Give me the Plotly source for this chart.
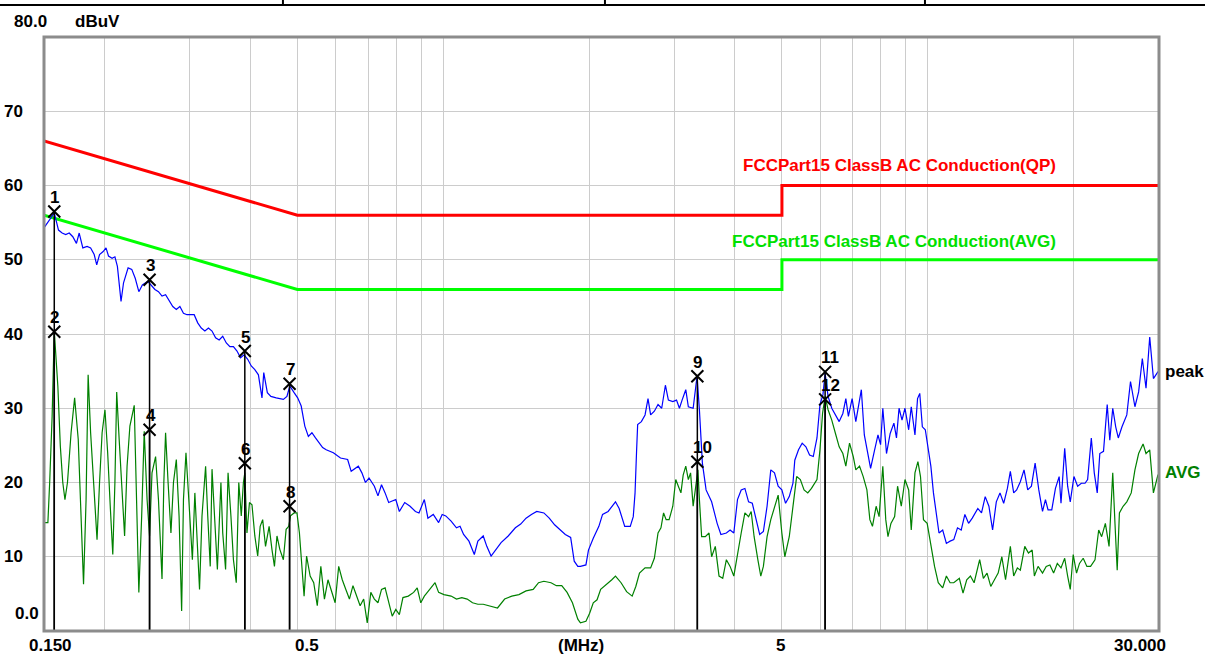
import numpy as np
import plotly.graph_objects as go

# ---------------- data ----------------
peak_f = [0.150, 0.1575, 0.1607, 0.1635, 0.1663, 0.1691, 0.1720, 0.1750, 0.1773, 0.1804, 0.1841, 0.1872,
          0.1904, 0.1927, 0.1953, 0.1987, 0.2014, 0.2038, 0.2073, 0.2101, 0.2126, 0.2163, 0.2189, 0.2237,
          0.2276, 0.2314, 0.2354, 0.2394, 0.2456, 0.2498, 0.2541, 0.2584, 0.2628, 0.2673, 0.2719, 0.2766,
          0.2813, 0.2861, 0.2910, 0.2960, 0.3010, 0.3062, 0.3114, 0.3167, 0.3222, 0.3277, 0.3333, 0.3390,
          0.3448, 0.3507, 0.3567, 0.3628, 0.3690, 0.3753, 0.3817, 0.3882, 0.3949, 0.4016, 0.4085, 0.4155,
          0.4226, 0.4262, 0.4335, 0.4409, 0.4522, 0.4678, 0.4758, 0.4824, 0.4923, 0.5007, 0.5092, 0.5180,
          0.5268, 0.5358, 0.5450, 0.5543, 0.5638, 0.5734, 0.5932, 0.6137, 0.6349, 0.6457, 0.6567, 0.6680,
          0.6794, 0.6910, 0.7028, 0.7209, 0.7333, 0.7458, 0.7586, 0.7716, 0.7847, 0.7982, 0.8118, 0.8327,
          0.8542, 0.8762, 0.8912, 0.9141, 0.9298, 0.9537, 0.9783, 0.9950, 1.0121, 1.0381, 1.0649, 1.0831,
          1.1016, 1.1300, 1.1591, 1.1789, 1.2093, 1.2300, 1.2553, 1.2833, 1.3163, 1.3617, 1.4087, 1.4450,
          1.4822, 1.5204, 1.5595, 1.6133, 1.6549, 1.6975, 1.7413, 1.7861, 1.8321, 1.8635, 1.8954,
          1.919, 1.970, 1.994, 2.040, 2.095, 2.132, 2.189, 2.267, 2.307, 2.369, 2.432, 2.467, 2.488, 2.506,
          2.519, 2.564, 2.609, 2.646, 2.679, 2.727, 2.775, 2.824, 2.874, 2.915, 2.977, 3.030, 3.072, 3.111,
          3.166, 3.205, 3.279, 3.340, 3.378, 3.426, 3.487, 3.580, 3.675, 3.741, 3.840, 3.908, 3.978, 4.048,
          4.120, 4.193, 4.267, 4.343, 4.420, 4.498, 4.578, 4.659, 4.742, 4.826, 4.911, 4.998, 5.087, 5.177,
          5.269, 5.315, 5.410, 5.505, 5.603, 5.702, 5.803, 5.906, 5.990, 6.075, 6.139, 6.226, 6.336, 6.448,
          6.563, 6.679, 6.774, 6.857, 6.979, 7.103, 7.191, 7.292, 7.396, 7.527, 7.620, 7.755, 7.892, 7.990,
          8.075, 8.218, 8.363, 8.512, 8.617, 8.723, 8.847, 8.972, 9.131, 9.244, 9.408, 9.524, 9.625, 9.744,
          9.882, 10.005, 10.146, 10.272, 10.399, 10.546, 10.733, 10.923, 11.117, 11.314, 11.515, 11.719,
          11.926, 12.138, 12.353, 12.683, 12.907, 13.136, 13.369, 13.606, 13.847, 14.092, 14.342, 14.596,
          14.803, 15.039, 15.252, 15.522, 15.797, 16.077, 16.362, 16.652, 16.947, 17.248, 17.491, 17.708,
          18.022, 18.341, 18.666, 18.831, 19.165, 19.436, 19.677, 20.025, 20.380, 20.741, 21.109, 21.370,
          21.749, 22.057, 22.369, 22.645, 23.047, 23.455, 23.745, 24.081, 24.422, 24.724, 25.162, 25.744,
          26.200, 26.758, 27.232, 27.715, 28.206, 28.706, 29.215, 29.84, 30.0]
peak_v = [54.3, 56.3, 54.0, 53.6, 53.4, 53.6, 53.1, 52.2, 53.6, 51.6, 51.8, 51.6,
          50.7, 49.3, 50.7, 51.1, 51.6, 50.5, 50.2, 50.4, 49.1, 44.4, 46.9, 48.9,
          48.7, 47.5, 45.7, 46.6, 47.1, 46.6, 46.0, 45.7, 45.1, 45.3, 44.4, 43.7,
          43.3, 43.7, 42.8, 42.6, 42.6, 42.6, 41.5, 40.8, 40.4, 40.8, 40.4, 39.5,
          39.2, 39.7, 38.8, 38.3, 38.3, 37.7, 36.8, 37.2, 36.6, 35.7, 35.2, 34.5,
          31.4, 34.8, 32.1, 31.6, 31.4, 31.2, 31.6, 33.0, 32.1, 31.4, 30.3, 27.6,
          26.2, 26.7, 26.0, 25.3, 24.7, 24.4, 24.0, 23.3, 23.1, 21.5, 21.8, 22.2,
          21.3, 20.0, 20.6, 19.5, 18.2, 19.7, 18.6, 17.3, 17.5, 17.7, 16.1, 17.3,
          16.8, 16.1, 15.9, 17.7, 15.2, 15.7, 14.6, 15.7, 15.5, 14.8, 13.9, 14.1,
          13.0, 12.1, 10.3, 12.1, 12.8, 11.4, 10.1, 11.0, 11.9, 12.8, 13.9, 14.4,
          15.2, 15.7, 16.1, 15.9, 15.2, 14.3, 13.6, 13.0, 12.6, 9.4, 8.7,
          8.7, 8.9, 10.9, 12.5, 14.1, 15.7, 16.1, 17.4, 16.5, 14.1, 14.1, 15.4, 18.6, 24.2,
          27.8, 28.2, 29.1, 31.3, 29.1, 29.6, 30.5, 30.0, 33.1, 31.1, 30.9, 31.1, 30.0, 31.1,
          32.5, 30.2, 30.0, 34.3, 29.8, 22.6, 19.0, 17.4, 14.5, 13.0, 13.2, 13.6, 13.2, 17.7,
          19.0, 19.2, 17.4, 17.2, 15.0, 13.0, 13.4, 16.8, 21.7, 21.3, 19.5, 19.0, 17.2, 18.1,
          19.9, 23.0, 24.4, 25.3, 24.8, 23.7, 23.5, 26.0, 30.5, 31.8, 34.7, 31.6, 30.0, 29.1,
          28.2, 29.3, 31.3, 28.9, 31.3, 28.2, 30.2, 32.5, 26.4, 23.9, 21.9, 24.2, 26.4, 25.1,
          30.0, 23.9, 26.6, 28.0, 26.0, 30.0, 28.4, 30.0, 27.1, 30.2, 26.4, 31.3, 32.0, 27.5,
          27.1, 24.8, 22.2, 18.6, 15.9, 13.2, 13.6, 11.8, 12.1, 12.3, 13.9, 13.6,
          15.7, 14.5, 15.2, 16.5, 15.9, 18.1, 16.8, 13.6, 17.4, 18.6, 17.2, 19.2,
          21.5, 18.6, 19.0, 20.1, 21.7, 19.0, 19.5, 22.6, 19.0, 16.1, 17.7, 16.3,
          16.3, 19.2, 20.8, 17.2, 24.6, 19.5, 17.4, 20.8, 19.5, 19.9, 19.9, 20.4,
          26.0, 21.3, 18.6, 23.9, 24.2, 30.5, 25.7, 30.0, 27.5, 26.0, 27.5, 29.1,
          33.6, 30.2, 32.2, 36.7, 32.7, 39.6, 34.0, 34.9, 34.9]

avg_f = [0.1502, 0.1528, 0.1541, 0.1559, 0.1575, 0.1586, 0.1602, 0.1621, 0.1640, 0.1657, 0.1677, 0.1706,
         0.1735, 0.1765, 0.1786, 0.1810, 0.1832, 0.1850, 0.1872, 0.1904, 0.1930, 0.1953, 0.1977, 0.2004,
         0.2030, 0.2055, 0.2080, 0.2101, 0.2119, 0.2144, 0.2174, 0.2200, 0.2226, 0.2256, 0.2303, 0.2326,
         0.2354, 0.2386, 0.2415, 0.2448, 0.2477, 0.2506, 0.2549, 0.2584, 0.2628, 0.2651, 0.2673, 0.2705,
         0.2742, 0.2775, 0.2813, 0.2850, 0.2885, 0.2910, 0.2945, 0.2985, 0.3036, 0.3072, 0.3098, 0.3141,
         0.3178, 0.3233, 0.3266, 0.3305, 0.3333, 0.3377, 0.3419, 0.3477, 0.3507, 0.3555, 0.3597, 0.3646,
         0.3690, 0.3740, 0.3785, 0.3830, 0.3869, 0.3895, 0.3935, 0.3982, 0.4030, 0.4085, 0.4141, 0.4190,
         0.4240, 0.4298, 0.4372, 0.4431, 0.4484, 0.4538, 0.4600, 0.4678, 0.4740, 0.4799, 0.4840, 0.4923,
         0.4990, 0.5049, 0.5110, 0.5162, 0.5224, 0.5313, 0.5404, 0.5496, 0.5590, 0.5686, 0.5783, 0.5882,
         0.5983, 0.6085, 0.6189, 0.6295, 0.6403, 0.6512, 0.6623, 0.6737, 0.6852, 0.6969, 0.7088, 0.7209,
         0.7333, 0.7458, 0.7586, 0.7716, 0.7847, 0.7982, 0.8118, 0.8257, 0.8470, 0.8688, 0.8837, 0.8988,
         0.9141, 0.9377, 0.9619, 0.9783, 1.0035, 1.0381, 1.0649, 1.0923, 1.1205, 1.1493, 1.1789, 1.2093,
         1.2510, 1.2942, 1.3388, 1.3850, 1.4328, 1.4822, 1.5333, 1.5728, 1.6133, 1.6690, 1.7120, 1.7561,
         1.8013, 1.8477, 1.8954,
         1.919, 1.970, 2.005, 2.040, 2.077, 2.113, 2.170, 2.228, 2.267, 2.328, 2.390, 2.454, 2.497, 2.541,
         2.609, 2.679, 2.727, 2.775, 2.814, 2.849, 2.884, 2.925, 2.977, 3.019, 3.056, 3.094, 3.127, 3.166,
         3.205, 3.239, 3.279, 3.319, 3.354, 3.378, 3.414, 3.474, 3.536, 3.580, 3.643, 3.708, 3.774, 3.840,
         3.908, 3.978, 4.048, 4.120, 4.193, 4.267, 4.320, 4.381, 4.459, 4.522, 4.578, 4.659, 4.742, 4.826,
         4.911, 4.998, 5.069, 5.177, 5.269, 5.362, 5.457, 5.554, 5.653, 5.753, 5.906, 5.990, 6.064, 6.139,
         6.226, 6.336, 6.448, 6.563, 6.679, 6.774, 6.894, 7.016, 7.103, 7.229, 7.357, 7.487, 7.593, 7.687,
         7.823, 7.934, 8.075, 8.189, 8.276, 8.393, 8.542, 8.662, 8.816, 8.972, 9.131, 9.244, 9.408, 9.541,
         9.659, 9.796, 9.970, 10.146, 10.326, 10.509, 10.733, 10.923, 11.117, 11.314, 11.616, 11.822,
         12.032, 12.245, 12.462, 12.795, 13.021, 13.252, 13.487, 13.726, 13.969, 14.217, 14.469, 14.803,
         15.039, 15.305, 15.522, 15.853, 16.134, 16.420, 16.593, 16.888, 17.248, 17.553, 17.864, 18.181,
         18.503, 18.831, 19.165, 19.436, 19.677, 19.955, 20.273, 20.560, 20.925, 21.295, 21.673, 22.134,
         22.526, 22.845, 23.250, 23.662, 24.081, 24.336, 24.594, 24.855, 25.295, 25.744, 26.292, 26.758,
         27.232, 27.813, 28.206, 28.706, 29.215, 29.84, 30.0]
avg_v = [14.6, 14.6, 20.0, 28.9, 40.4, 37.4, 33.0, 24.9, 20.0, 17.7, 20.0, 26.7,
         31.4, 25.8, 17.7, 6.3, 17.7, 34.5, 26.7, 17.7, 12.3, 20.0, 26.7, 29.8,
         24.0, 16.8, 10.3, 20.0, 32.2, 25.8, 17.7, 12.8, 22.2, 27.6, 30.4, 20.0,
         5.2, 15.5, 26.9, 17.7, 12.8, 21.3, 23.5, 17.7, 7.0, 20.0, 26.7, 20.0,
         13.2, 20.0, 23.1, 15.5, 2.7, 17.7, 24.0, 17.7, 9.6, 18.6, 13.2, 5.6,
         15.5, 22.2, 15.5, 8.7, 21.8, 15.5, 8.3, 20.0, 13.2, 8.3, 21.3, 15.5,
         9.6, 6.5, 20.0, 15.5, 20.0, 21.3, 13.2, 17.3, 17.0, 12.8, 10.1, 14.1,
         15.0, 11.4, 14.1, 11.0, 8.7, 12.8, 11.0, 9.6, 13.7, 14.1, 15.5, 15.9,
         15.9, 13.2, 9.2, 4.7, 10.1, 7.4, 6.5, 3.4, 8.7, 4.3, 6.9, 5.2,
         3.8, 8.7, 6.9, 5.6, 4.3, 6.1, 4.7, 3.4, 4.3, 1.1, 5.2, 4.3,
         3.8, 5.6, 5.8, 3.8, 2.0, 2.9, 2.2, 4.5, 4.7, 5.2, 5.8, 3.8,
         4.7, 5.6, 6.5, 5.2, 4.9, 4.7, 4.3, 4.5, 4.3, 3.8, 3.6, 3.6,
         3.4, 3.1, 4.3, 4.7, 4.9, 5.4, 5.6, 6.5, 6.7, 6.5, 6.1, 6.1,
         5.2, 3.8, 1.6,
         1.1, 1.3, 2.4, 3.8, 4.2, 5.6, 6.2, 6.9, 7.4, 6.5, 5.3, 4.7, 6.0, 7.8,
         8.5, 8.5, 9.8, 13.2, 13.9, 15.9, 15.0, 15.0, 16.8, 20.4, 19.5, 18.6, 21.0, 22.2,
         20.4, 21.3, 16.8, 19.9, 21.7, 17.7, 12.7, 12.7, 13.2, 10.0, 11.4, 7.4, 7.1, 9.6,
         8.7, 7.4, 10.5, 13.2, 15.9, 15.4, 16.1, 12.7, 9.6, 7.4, 8.7, 12.7, 15.0, 16.8,
         18.3, 13.2, 10.0, 12.7, 16.8, 20.8, 20.4, 19.0, 18.6, 19.2, 20.4, 24.4, 29.3, 31.6,
         29.8, 28.4, 26.6, 24.8, 23.9, 22.2, 25.3, 23.5, 21.7, 22.2, 20.8, 19.0, 15.0, 14.1,
         16.8, 15.4, 22.2, 15.0, 12.7, 14.5, 15.4, 19.5, 16.8, 20.4, 19.0, 13.6, 21.3, 22.8,
         20.8, 15.0, 14.5, 11.4, 8.7, 6.5, 5.8, 7.4, 6.5, 6.5, 7.1, 5.1,
         6.9, 7.4, 6.5, 9.6, 7.1, 7.8, 6.0, 6.9, 7.8, 10.0, 6.9, 11.4,
         7.4, 8.5, 8.2, 11.4, 10.5, 10.9, 7.4, 8.7, 7.8, 8.7, 8.9, 7.8,
         9.1, 8.5, 9.8, 7.4, 5.6, 10.3, 7.8, 9.1, 9.8, 8.7, 8.7, 9.6,
         13.6, 12.7, 14.5, 11.4, 21.3, 14.5, 8.2, 15.9, 16.8, 17.4, 18.6, 21.7,
         23.9, 25.2, 23.9, 24.4, 18.6, 21.0, 21.0]

qp_limit_f = [0.15, 0.5, 5.0, 5.0, 30.0]
qp_limit_v = [66.0, 56.0, 56.0, 60.0, 60.0]
avg_limit_f = [0.15, 0.5, 5.0, 5.0, 30.0]
avg_limit_v = [56.0, 46.0, 46.0, 50.0, 50.0]

marker_no = ["1", "2", "3", "4", "5", "6", "7", "8", "9", "10", "11", "12"]
marker_f = [0.1575, 0.1575, 0.2477, 0.2477, 0.3895, 0.3895, 0.4818, 0.4818, 3.345, 3.345, 6.139, 6.139]
marker_v = [56.5, 40.3, 47.3, 27.1, 37.7, 22.6, 33.3, 16.8, 34.3, 22.8, 34.9, 31.2]

grid_f = [0.2, 0.3, 0.4, 0.5, 0.6, 0.7, 0.8, 0.9, 1, 2, 3, 4, 5, 6, 7, 8, 9, 10, 20]
y_tick_vals = [10, 20, 30, 40, 50, 60, 70]
x_tick_labels = ["0.150", "0.5", "(MHz)", "5", "30.000"]

# ---------------- figure ----------------
FONT = "Liberation Sans, Arial, sans-serif"
fig = go.Figure()

fig.add_trace(go.Scatter(x=qp_limit_f, y=qp_limit_v, mode="lines",
                         line=dict(color="#ff0000", width=3), hoverinfo="skip"))
fig.add_trace(go.Scatter(x=avg_limit_f, y=avg_limit_v, mode="lines",
                         line=dict(color="#00ff00", width=3), hoverinfo="skip"))
fig.add_trace(go.Scatter(x=avg_f, y=avg_v, mode="lines",
                         line=dict(color="#008000", width=1.2)))
fig.add_trace(go.Scatter(x=peak_f, y=peak_v, mode="lines",
                         line=dict(color="#0000ff", width=1.2)))

# vertical marker lines
lx, ly = [], []
for f, v in zip(marker_f, marker_v):
    lx += [f, f, None]
    ly += [v, 0, None]
fig.add_trace(go.Scatter(x=lx, y=ly, mode="lines", line=dict(color="black", width=1.5),
                         hoverinfo="skip"))
fig.add_trace(go.Scatter(x=marker_f, y=marker_v, mode="markers",
                         marker=dict(symbol="x-thin", size=12, color="black",
                                     line=dict(color="black", width=2))))

bold = dict(family=FONT, size=17, color="black", weight="bold")
ann = []
for t, f, v in zip(marker_no, marker_f, marker_v):
    ann.append(dict(x=np.log10(f), y=v, xref="x", yref="y", text=t, showarrow=False,
                    xanchor="left", yanchor="middle", xshift=-6, yshift=14, font=bold))

# axis labels (x)
x_label_pos = [0.0054, 0.2359, 0.4816, 0.6601, 0.9830]
for t, p in zip(x_tick_labels, x_label_pos):
    ann.append(dict(x=p, y=-0.0236, xref="paper", yref="paper", text=t, showarrow=False,
                    xanchor="center", yanchor="middle", font=bold))
# y labels
for v in y_tick_vals:
    ann.append(dict(x=-0.0377, y=v, xref="paper", yref="y", text=str(v), showarrow=False,
                    xanchor="left", yanchor="middle", font=bold))
ann.append(dict(x=-0.0278, y=0.030, xref="paper", yref="paper", text="0.0", showarrow=False,
                xanchor="left", yanchor="middle", font=bold))
ann.append(dict(x=-0.0287, y=1.0269, xref="paper", yref="paper", text="80.0", showarrow=False,
                xanchor="left", yanchor="middle", font=bold))
ann.append(dict(x=0.026, y=1.0269, xref="paper", yref="paper", text="dBuV", showarrow=False,
                xanchor="left", yanchor="middle", font=bold))
# trace labels
ann.append(dict(x=1.0036, y=34.9, xref="paper", yref="y", text="peak", showarrow=False,
                xanchor="left", yanchor="middle", font=bold))
ann.append(dict(x=1.0036, y=21.3, xref="paper", yref="y", text="AVG", showarrow=False,
                xanchor="left", yanchor="middle", font=dict(bold, color="#008000")))
# limit labels
ann.append(dict(x=0.9094, y=62.7, xref="paper", yref="y",
                text="FCCPart15 ClassB AC Conduction(QP)", showarrow=False,
                xanchor="right", yanchor="middle", font=dict(bold, color="#ff0000")))
ann.append(dict(x=0.9094, y=52.5, xref="paper", yref="y",
                text="FCCPart15 ClassB AC Conduction(AVG)", showarrow=False,
                xanchor="right", yanchor="middle", font=dict(bold, color="#00e000")))

shapes = [
    dict(type="rect", xref="paper", yref="paper", x0=0, x1=1, y0=0, y1=1,
         line=dict(color="#8c8c8c", width=3), layer="above"),
    dict(type="line", xref="paper", yref="paper", x0=-0.05, x1=1.05, y0=1.0539, y1=1.0539,
         line=dict(color="black", width=2)),
]
for px in [0.2143, 0.5031, 0.7901]:
    shapes.append(dict(type="line", xref="paper", yref="paper", x0=px, x1=px, y0=1.0539, y1=1.08,
                       line=dict(color="black", width=2)))

fig.update_layout(
    width=1205, height=654,
    margin=dict(l=44, r=46, t=37, b=23, pad=0),
    paper_bgcolor="white", plot_bgcolor="white",
    showlegend=False,
    annotations=ann, shapes=shapes,
    xaxis=dict(type="log", range=[np.log10(0.15), np.log10(30)], tickvals=grid_f,
               showticklabels=False, ticks="", showgrid=True, gridcolor="#cccccc",
               gridwidth=1.3, zeroline=False, showline=False),
    yaxis=dict(range=[0, 80], tickvals=y_tick_vals, showticklabels=False, ticks="",
               showgrid=True, gridcolor="#cccccc", gridwidth=1.3, zeroline=False,
               showline=False),
)

fig.write_html("out.html", config={"displayModeBar": False},
               post_script="document.body.style.margin='0px';")
